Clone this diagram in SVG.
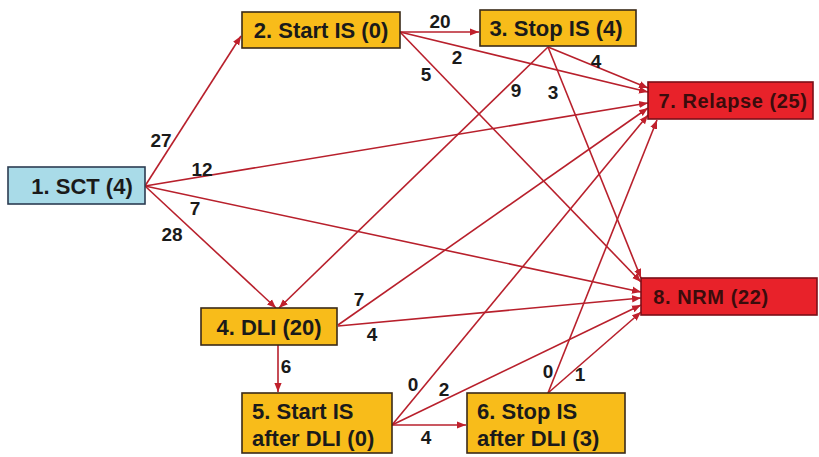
<svg xmlns="http://www.w3.org/2000/svg" width="819" height="457" viewBox="0 0 819 457">
<defs>
<style>
.box{stroke:#3a2a18;stroke-width:1.6}
.yel{fill:#f8bc1a}
.blue{fill:#a9dbe8;stroke:#2c3c52}
.red{fill:#e8222a;stroke:#7a1018}
.t{font-family:"Liberation Sans",Arial,sans-serif;font-weight:bold;font-size:22px;fill:#1a1a1a}
.tr{fill:#3a0c0c;font-size:20px;letter-spacing:0.6px}
.e{stroke:#b8202c;stroke-width:1.6;fill:none}
.l{font-family:"Liberation Sans",Arial,sans-serif;font-weight:bold;font-size:19px;fill:#1a1a1a;text-anchor:middle}
</style>
<marker id="ah" viewBox="0 0 10 10" refX="10" refY="5" markerWidth="9" markerHeight="9" markerUnits="userSpaceOnUse" orient="auto">
<path d="M0,1 L10,5 L0,9 z" fill="#c0202c"/>
</marker>
</defs>
<rect width="819" height="457" fill="#ffffff"/>
<g id="connectors">
<path class="e" marker-end="url(#ah)" d="M145,186 L241,36"/>
<path class="e" marker-end="url(#ah)" d="M145,186 L648,103"/>
<path class="e" marker-end="url(#ah)" d="M145,186 L641,292"/>
<path class="e" marker-end="url(#ah)" d="M145,186 L276,308"/>
<path class="e" marker-end="url(#ah)" d="M400,32 L479,32"/>
<path class="e" marker-end="url(#ah)" d="M400,32 L648,92"/>
<path class="e" marker-end="url(#ah)" d="M400,32 L641,282"/>
<path class="e" marker-end="url(#ah)" d="M548,47 L648,88"/>
<path class="e" marker-end="url(#ah)" d="M548,47 L279,308"/>
<path class="e" marker-end="url(#ah)" d="M548,47 L641,278"/>
<path class="e" marker-end="url(#ah)" d="M338,325 L648,108"/>
<path class="e" marker-end="url(#ah)" d="M338,326 L641,298"/>
<path class="e" marker-end="url(#ah)" d="M278,345 L278,392"/>
<path class="e" marker-end="url(#ah)" d="M392,425 L648,115"/>
<path class="e" marker-end="url(#ah)" d="M392,425 L641,305"/>
<path class="e" marker-end="url(#ah)" d="M392,425 L466,425"/>
<path class="e" marker-end="url(#ah)" d="M548,393 L657,120"/>
<path class="e" marker-end="url(#ah)" d="M548,393 L641,312"/>
<text class="l" x="161" y="147">27</text>
<text class="l" x="202" y="176">12</text>
<text class="l" x="195" y="215">7</text>
<text class="l" x="172" y="241">28</text>
<text class="l" x="440" y="28">20</text>
<text class="l" x="457" y="64">2</text>
<text class="l" x="426" y="81">5</text>
<text class="l" x="596" y="68">4</text>
<text class="l" x="516" y="97">9</text>
<text class="l" x="553" y="99">3</text>
<text class="l" x="359" y="306">7</text>
<text class="l" x="372" y="341">4</text>
<text class="l" x="286" y="373">6</text>
<text class="l" x="413" y="391">0</text>
<text class="l" x="444" y="396">2</text>
<text class="l" x="426" y="444">4</text>
<text class="l" x="548" y="378">0</text>
<text class="l" x="580" y="381">1</text>
</g>
<g id="n1"><rect class="box blue" x="8" y="167" width="137" height="37"/><text class="t" x="82" y="194" text-anchor="middle">1. SCT (4)</text></g>
<g id="n2"><rect class="box yel" x="242" y="12" width="158" height="36"/><text class="t" x="321" y="38" text-anchor="middle">2. Start IS (0)</text></g>
<g id="n3"><rect class="box yel" x="480" y="10" width="156" height="36"/><text class="t" x="556" y="36" text-anchor="middle">3. Stop IS (4)</text></g>
<g id="n4"><rect class="box yel" x="201" y="308" width="136" height="37"/><text class="t" x="269" y="335" text-anchor="middle">4. DLI (20)</text></g>
<g id="n5"><rect class="box yel" x="242" y="393" width="150" height="60"/><text class="t" x="252" y="419">5. Start IS</text><text class="t" x="252" y="446">after DLI (0)</text></g>
<g id="n6"><rect class="box yel" x="467" y="393" width="158" height="60"/><text class="t" x="477" y="419">6. Stop IS</text><text class="t" x="477" y="446">after DLI (3)</text></g>
<g id="n7"><rect class="box red" x="648" y="82" width="165" height="37"/><text class="t tr" x="733" y="108" text-anchor="middle">7. Relapse (25)</text></g>
<g id="n8"><rect class="box red" x="641" y="278" width="176" height="37"/><text class="t tr" x="711" y="304" text-anchor="middle">8. NRM (22)</text></g>
</svg>
